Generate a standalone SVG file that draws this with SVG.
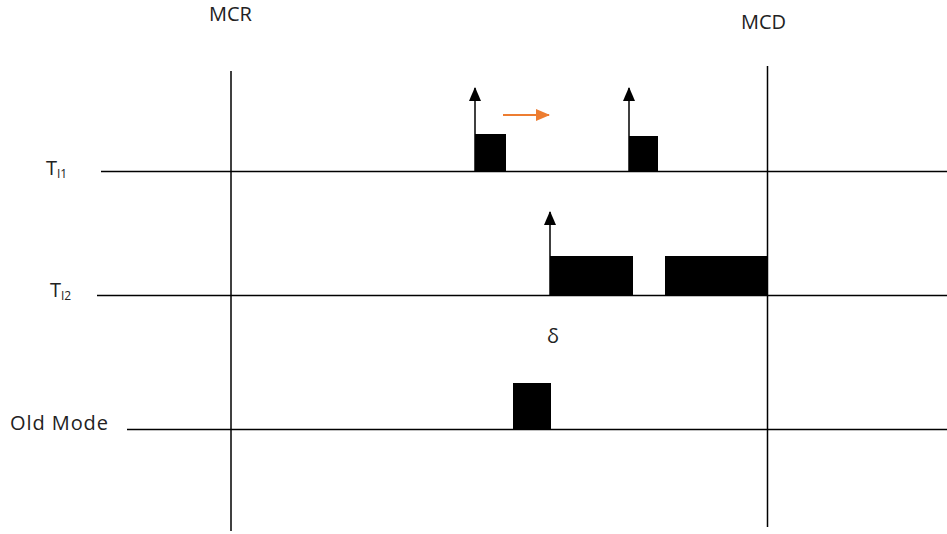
<svg xmlns="http://www.w3.org/2000/svg" width="947" height="534" viewBox="0 0 947 534">
<style>
.ln{stroke:#000;stroke-width:1.5;fill:none}
.blk{fill:#000}
.t{font-family:"Open Sans","Liberation Sans",Arial,sans-serif;font-size:20px;fill:#222}
.s{font-family:"Open Sans","Liberation Sans",Arial,sans-serif;font-size:12px;fill:#222}
</style>
<defs>
<marker id="ah" viewBox="0 0 14 12" refX="13" refY="6" markerWidth="14" markerHeight="12" markerUnits="userSpaceOnUse" orient="auto">
<path d="M0,0 L14,6 L0,12 Z" fill="#000"/>
</marker>
<marker id="oh" viewBox="0 0 14 12" refX="13" refY="6" markerWidth="14" markerHeight="12" markerUnits="userSpaceOnUse" orient="auto">
<path d="M0,0 L14,6 L0,12 Z" fill="#ED7D31"/>
</marker>
</defs>
<g id="labels">
<text class="t" x="209" y="21">MCR</text>
<text class="t" x="741" y="29">MCD</text>
<text class="t" x="46" y="175">T<tspan class="s" dy="3">I1</tspan></text>
<text class="t" x="50" y="297">T<tspan class="s" dy="3">I2</tspan></text>
<text class="t" x="10" y="430" textLength="98">Old Mode</text>
<text class="t" x="547" y="343">δ</text>
</g>
<g id="axes">
<line class="ln" x1="231" y1="71" x2="231" y2="531"/>
<line class="ln" x1="767.5" y1="66" x2="767.5" y2="527"/>
<line class="ln" x1="101" y1="171.5" x2="947" y2="171.5"/>
<line class="ln" x1="97" y1="295.5" x2="947" y2="295.5"/>
<line class="ln" x1="127" y1="429.5" x2="947" y2="429.5"/>
</g>
<g id="ti1">
<rect class="blk" x="475" y="134" width="31" height="38"/>
<rect class="blk" x="629" y="136" width="29" height="36"/>
</g>
<g id="ti2">
<rect class="blk" x="550" y="256" width="83" height="40"/>
<rect class="blk" x="665" y="256" width="103" height="40"/>
</g>
<g id="old">
<rect class="blk" x="513" y="383" width="38" height="46"/>
</g>
<g id="connectors">
<line class="ln" x1="475" y1="172" x2="475" y2="88" marker-end="url(#ah)"/>
<line class="ln" x1="629" y1="172" x2="629" y2="88" marker-end="url(#ah)"/>
<line class="ln" x1="550" y1="296" x2="550" y2="212" marker-end="url(#ah)"/>
<line x1="503" y1="115" x2="549" y2="115" stroke="#ED7D31" stroke-width="2" marker-end="url(#oh)"/>
</g>
</svg>
